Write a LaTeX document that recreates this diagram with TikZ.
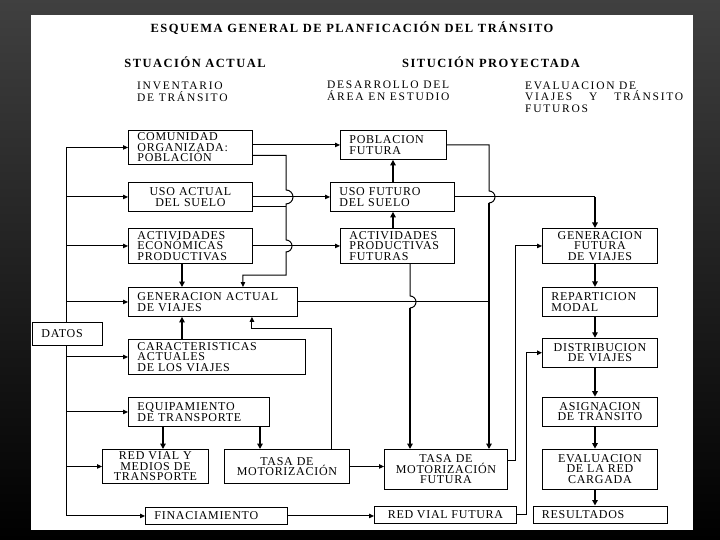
\documentclass[tikz,border=0pt]{standalone}
\usepackage{fontspec}
\setmainfont{Liberation Serif}
\newfontfamily\bxfont[LetterSpace=6]{Liberation Serif}
\newfontfamily\hdfont[LetterSpace=12]{Liberation Serif}
\newfontfamily\sbfont[LetterSpace=15]{Liberation Serif}
\usetikzlibrary{arrows.meta,positioning,calc}

\begin{document}
\begin{tikzpicture}[x=1pt, y=-1pt,
	bx/.style={draw, line width=.9pt, inner xsep=9pt, inner ysep=0pt, align=left, anchor=north west,
		font=\bxfont\fontsize{12}{10.5}\selectfont},
	bc/.style={bx, align=center},
	hd/.style={inner sep=0pt, font=\hdfont\bfseries\fontsize{12.5}{14}\selectfont},
	sb/.style={inner sep=0pt, anchor=west, align=left, font=\sbfont\fontsize{11.5}{11.5}\selectfont},
	ln/.style={line width=1pt},
	ar/.style={ln, -{Triangle[length=5pt, width=4.5pt]}},
	tk/.style={line width=1.6pt, -{Triangle[length=5.5pt, width=5.5pt]}}]
	% frame
	\shade[top color=black!75, bottom color=black] (0,0) rectangle (720,540);
	\fill[white] (31,15) rectangle (693,530);
	% headings
	\node[hd] (ttl) at (352,28) {ESQUEMA GENERAL DE PLANFICACIÓN DEL TRÁNSITO};
	\node[hd] (sa) at (195,62) {STUACIÓN ACTUAL};
	\node[hd] (sp) at (491,62) {SITUCIÓN PROYECTADA};
	\node[sb] (inv) at (137,92) {INVENTARIO\\DE TRÁNSITO};
	\node[sb] (des) at (327,91) {DESARROLLO DEL\\ÁREA EN ESTUDIO};
	\node[sb] (eva) at (525,97) {EVALUACION DE\\\makebox[158pt][s]{VIAJES Y TRÁNSITO}\\FUTUROS};
	% situacion actual
	\node[bx, text width=106pt, minimum height=34pt] (com) at (128,130) {COMUNIDAD\\ORGANIZADA:\\POBLACIÓN};
	\node[bc, text width=106pt, minimum height=29pt] (usoa) at (128,182) {USO ACTUAL\\DEL SUELO};
	\node[bx, text width=106pt, minimum height=35pt] (acte) at (128,228) {ACTIVIDADES\\ECONÓMICAS\\PRODUCTIVAS};
	\node[bx, text width=151pt, minimum height=29pt] (gena) at (128,287) {GENERACION ACTUAL\\DE VIAJES};
	\node[bx, text width=52pt, minimum height=23pt] (datos) at (32,322) {DATOS};
	\node[bx, text width=159pt, minimum height=35pt] (cara) at (128,339) {CARACTERISTICAS\\ACTUALES\\DE LOS VIAJES};
	\node[bx, text width=123pt, minimum height=29pt] (equi) at (128,397) {EQUIPAMIENTO\\DE TRANSPORTE};
	\node[bc, text width=88pt, minimum height=34pt] (redm) at (102,449) {RED VIAL Y\\MEDIOS DE\\TRANSPORTE};
	\node[bc, text width=107pt, minimum height=34pt] (tasa) at (224,449) {TASA DE\\MOTORIZACIÓN};
	\node[bx, text width=124pt, minimum height=17pt] (fin) at (145,507) {FINACIAMIENTO};
	% situacion proyectada
	\node[bx, text width=88pt, minimum height=29pt] (pobf) at (340,130) {POBLACION\\FUTURA};
	\node[bx, text width=106pt, minimum height=29pt] (usof) at (330,182) {USO FUTURO\\DEL SUELO};
	\node[bx, text width=96pt, minimum height=35pt] (actf) at (340,228) {ACTIVIDADES\\PRODUCTIVAS\\FUTURAS};
	\node[bc, text width=105pt, minimum height=40pt] (tasf) at (384,449) {TASA DE\\MOTORIZACIÓN\\FUTURA};
	\node[bx, align=center, minimum width=142pt, minimum height=17pt] (redf) at (374,506) {RED VIAL FUTURA};
	\node[bc, text width=97pt, minimum height=35pt] (genf) at (542,228) {GENERACION\\FUTURA\\DE VIAJES};
	\node[bx, text width=97pt, minimum height=29pt, below=23pt of genf] (rep) {REPARTICION\\MODAL};
	\node[bc, text width=97pt, minimum height=29pt, below=21pt of rep] (dist) {DISTRIBUCION\\DE VIAJES};
	\node[bc, text width=97pt, minimum height=29pt, below=29pt of dist] (asig) {ASIGNACION\\DE TRÁNSITO};
	\node[bc, text width=97pt, minimum height=40pt, below=22pt of asig] (eval) {EVALUACION\\DE LA RED\\CARGADA};
	\node[bx, text width=116pt, minimum height=17pt, below=16pt of eval] (res) {RESULTADOS};
	% columns for the connectors
	\coordinate (bus) at (66,0);
	\coordinate (colA) at (286,0);
	\coordinate (jA) at (286,275);
	\coordinate (cA) at (182,0);
	\coordinate (cB) at (163,0);
	\coordinate (cC) at (260,0);
	\coordinate (cD) at (331,328);
	\coordinate (cF) at (393,0);
	\coordinate (cG) at (489,0);
	\coordinate (cH) at (595,0);
	\coordinate (cI) at (410,0);
	\coordinate (cJ) at (515,0);
	\coordinate (cK) at (526,0);
	% datos
	\draw[ln] (bus |- com.west) -- (bus |- datos.north);
	\draw[ar] (bus |- datos.south) |- (fin.west);
	\foreach \n in {com,usoa,acte,gena,cara,equi,redm}
		\draw[ar] (bus |- \n.west) -- (\n.west);
	% actual
	\draw[ar] ([yshift=-8pt]com.east) -| ([yshift=7pt]colA |- usoa.east)
		arc[start angle=90, end angle=-90, radius=7pt] -- ([yshift=6pt]colA |- acte.east)
		arc[start angle=90, end angle=-90, radius=6pt] -- (jA) -| ([xshift=30pt]gena.north);
	\draw[ln] ([yshift=-10pt]usoa.east) -- ([yshift=-10pt]colA |- usoa.east);
	\draw[tk] (cA |- acte.south) -- (cA |- gena.north);
	\draw[tk] (cA |- cara.north) -- (cA |- gena.south);
	\draw[tk] (cB |- equi.south) -- (cB |- redm.north);
	\draw[tk] (cC |- equi.south) -- (cC |- tasa.north);
	\draw[ar] (cD |- tasa.north) -- (cD) -| ([xshift=39pt]gena.south);
	\draw[ar] (tasa.east) -- (tasa.east -| tasf.west);
	\draw[ar] (fin.east) -- (fin.east -| redf.west);
	% proyectada
	\draw[ar] (com.east |- pobf.west) -- (pobf.west);
	\draw[ar] (usoa.east) -- (usof.west);
	\draw[ar] (acte.east) -- (actf.west);
	\draw[tk] (cF |- usof.north) -- (cF |- pobf.south);
	\draw[tk] (cF |- actf.north) -- (cF |- usof.south);
	\draw[ln] (pobf.east) -| ([yshift=6pt]cG |- usof.east) arc[start angle=90, end angle=-90, radius=6pt];
	\draw[tk] ([yshift=-6pt]cG |- usof.east) -- (cG |- tasf.north);
	\draw[ln] (usof.east) -- (cH |- usof.east);
	\draw[tk] (cH |- usof.east) -- (cH |- genf.north);
	\draw[ln] (gena.east) -- (cG |- gena.east);
	\draw[ln] (cI |- actf.south) -- ([yshift=6pt]cI |- gena.east) arc[start angle=90, end angle=-90, radius=6pt];
	\draw[tk] ([yshift=-6pt]cI |- gena.east) -- (cI |- tasf.north);
	\draw[ar] ([yshift=9pt]tasf.east) -| (cJ |- genf.west) -- (genf.west);
	\draw[ar] (redf.east) -| (cK |- dist.west) -- (dist.west);
	\foreach \a/\b in {genf/rep, rep/dist, dist/asig, asig/eval, eval/res}
		\draw[tk] (cH |- \a.south) -- (cH |- \b.north);
\end{tikzpicture}
\end{document}
